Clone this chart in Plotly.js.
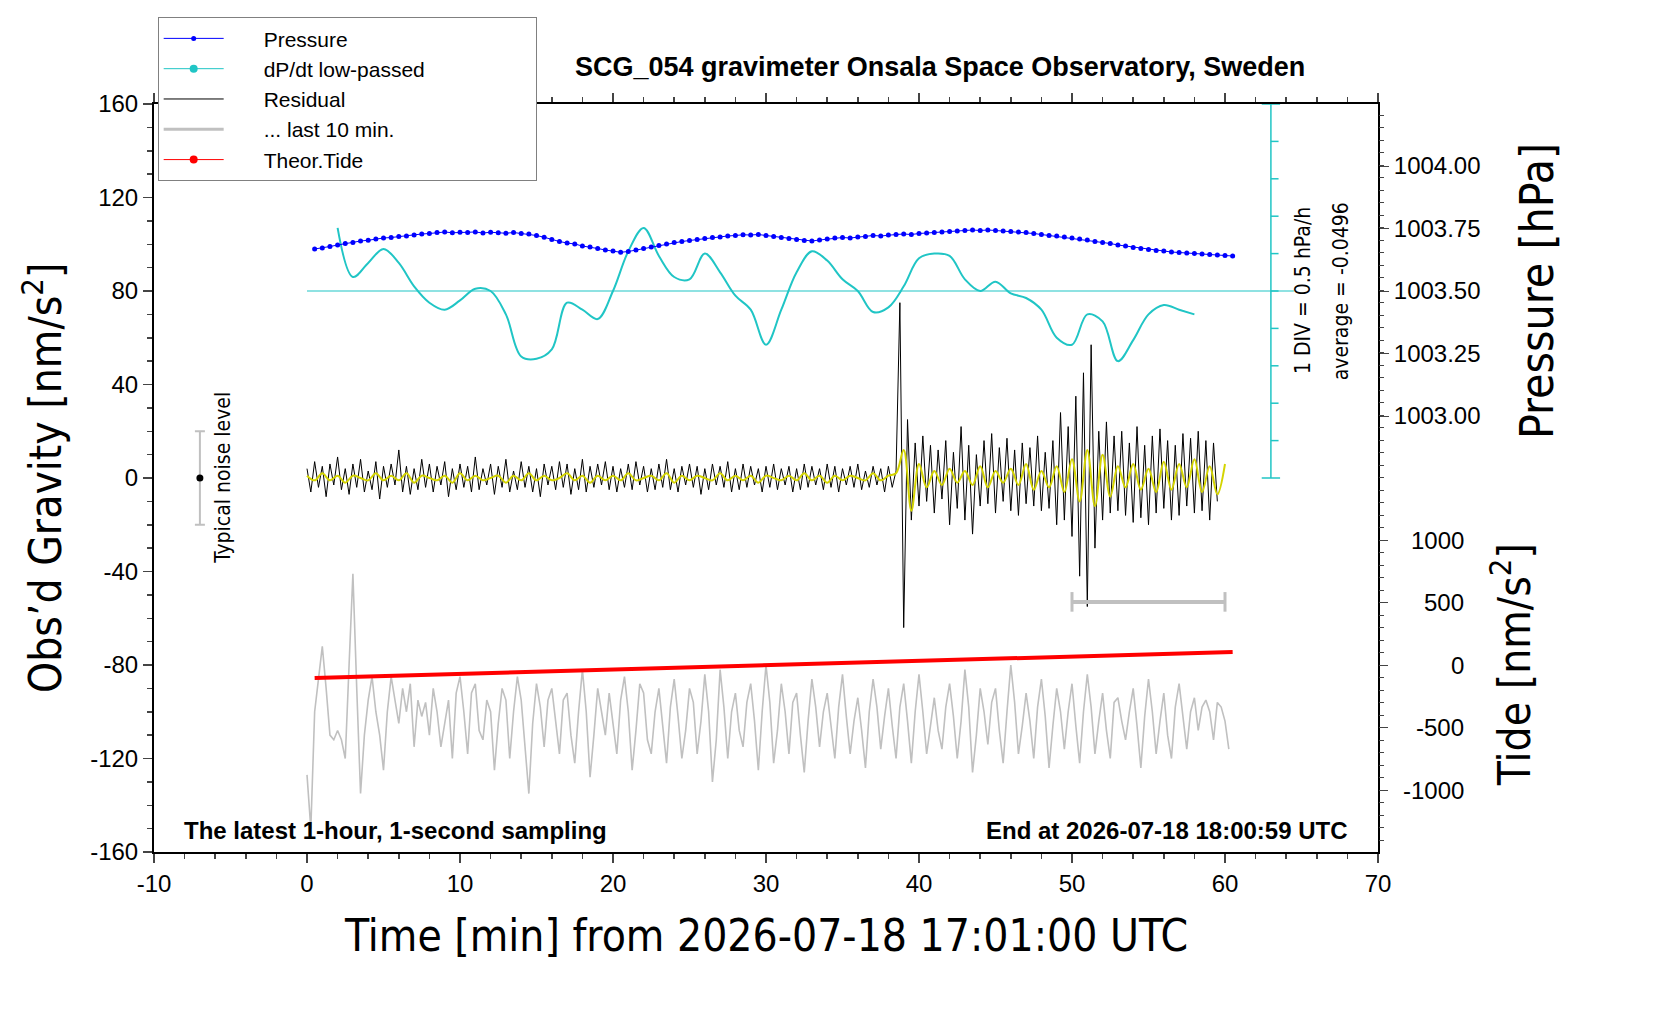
<!DOCTYPE html>
<html><head><meta charset="utf-8">
<script src="https://cdn.plot.ly/plotly-3.0.1.min.js"></script>
<style>body{margin:0;background:#fff}</style></head>
<body><div id="chart" style="width:1660px;height:1020px"></div>
<script>
// ---- data ----
const residualStep = 0.25; // minutes between residual samples
const residual = [4,-6,7,-4,5,-8,6,-3,9,-5,4,-7,6,-4,8,-6,3,-5,7,-9,5,-4,6,-3,12,-6,5,-7,4,-5,8,-4,6,-6,5,-3,7,-8,4,-5,
6,-4,5,-6,9,-5,4,-3,6,-7,5,-4,8,-6,3,-5,7,-4,5,-6,4,-8,6,-3,5,-5,7,-4,6,-7,4,-5,8,-6,5,-4,6,-3,7,-5,
5,-6,4,-4,6,-5,7,-3,5,-6,4,-5,6,-4,8,-5,4,-6,5,-3,6,-4,5,-7,4,-5,6,-3,5,-4,7,-6,4,-5,6,-4,5,-3,4,-6,
5,-4,6,-5,4,-3,5,-6,4,-5,6,-4,5,-3,4,-5,6,-4,5,-6,4,-3,5,-4,6,-5,3,-4,5,-3,4,-6,5,-4,
3,75,-64,25,-18,15,-12,18,-10,14,-15,12,-9,16,-20,11,-13,22,-18,14,-24,10,-12,16,-11,19,-15,13,-10,17,
-14,12,-16,15,-11,13,-12,18,-14,11,-13,16,-20,28,-18,22,-25,35,-42,45,-55,57,-30,20,-18,24,-15,18,-14,20,
-16,15,-19,22,-17,14,-20,18,-15,21,-13,16,-18,14,-16,19,-12,17,-15,20,-14,16,-18,15,-10];
const yellowStep = 0.5;
const yellow = [1,-1,2,-1,1,-2,1,0,-1,2,-1,1,-1,2,-2,1,0,-1,1,-2,2,-1,1,-1,0,1,-2,1,-1,2,-1,1,-1,0,2,-1,1,-2,1,-1,
1,-1,2,-1,0,1,-1,2,-2,1,-1,1,0,-1,2,-1,1,-1,1,-2,1,0,-1,1,-1,2,-1,1,-2,1,-1,1,0,-1,2,-1,1,
2,12,-14,6,-4,3,-3,4,-2,3,-3,5,-4,3,-2,4,-3,6,-5,3,-4,5,-6,8,-10,12,-12,10,-8,5,-4,6,-5,4,-6,7,-5,6,-4,8,-6,5,-7,6];
const grayStep = 0.25;
const gray = [-127,-150,-100,-85,-72,-90,-110,-112,-108,-112,-120,-80,-41,-90,-135,-110,-95,-85,-100,-110,-125,-100,-85,-95,
-105,-90,-100,-88,-115,-95,-102,-96,-110,-90,-100,-115,-105,-95,-120,-92,-85,-100,-118,-92,-88,-108,-112,-95,
-100,-125,-105,-90,-95,-120,-100,-85,-95,-115,-135,-105,-88,-98,-115,-95,-90,-104,-118,-95,-92,-110,-122,-100,
-82,-100,-128,-110,-90,-100,-110,-92,-105,-118,-95,-85,-100,-125,-108,-88,-92,-112,-118,-100,-90,-105,-122,-98,
-86,-102,-120,-108,-90,-96,-118,-104,-84,-100,-130,-112,-82,-98,-120,-100,-92,-108,-115,-96,-88,-104,-125,-100,
-80,-96,-122,-108,-88,-100,-118,-96,-92,-110,-126,-104,-86,-98,-115,-100,-92,-106,-120,-98,-84,-102,-118,-104,
-94,-108,-124,-100,-86,-98,-116,-102,-90,-106,-120,-98,-88,-104,-122,-100,-84,-100,-118,-106,-94,-108,-116,-98,
-88,-102,-120,-104,-82,-98,-126,-110,-90,-100,-114,-96,-90,-108,-122,-100,-80,-96,-118,-106,-92,-104,-120,-98,
-86,-102,-124,-106,-90,-100,-116,-100,-88,-106,-122,-100,-84,-98,-118,-104,-92,-108,-120,-96,-94,-104,-112,-100,
-90,-106,-124,-102,-86,-100,-118,-104,-92,-110,-120,-98,-88,-102,-116,-100,-94,-108,-98,-95,-100,-112,-96,-98,-104,-116];
const pressureStart = 0.5, pressureStep = 0.5;
const pressure = [1003.668,1003.672,1003.678,1003.684,1003.690,1003.694,1003.700,1003.703,1003.708,1003.712,1003.714,1003.718,1003.720,1003.724,1003.728,1003.730,1003.734,1003.736,1003.733,1003.735,
1003.734,1003.736,1003.732,1003.735,1003.733,1003.731,1003.734,1003.730,1003.728,1003.722,1003.715,1003.706,1003.698,1003.692,1003.688,1003.680,1003.676,1003.670,1003.664,1003.660,
1003.655,1003.658,1003.664,1003.670,1003.676,1003.682,1003.688,1003.694,1003.698,1003.702,1003.706,1003.710,1003.714,1003.716,1003.720,1003.722,1003.725,1003.724,1003.726,1003.722,
1003.718,1003.714,1003.710,1003.706,1003.702,1003.700,1003.704,1003.708,1003.712,1003.714,1003.712,1003.716,1003.718,1003.722,1003.720,1003.724,1003.726,1003.728,1003.726,1003.730,
1003.732,1003.734,1003.736,1003.738,1003.740,1003.742,1003.744,1003.742,1003.744,1003.742,1003.740,1003.738,1003.736,1003.734,1003.730,1003.726,1003.722,1003.720,1003.716,1003.712,
1003.708,1003.704,1003.698,1003.694,1003.690,1003.684,1003.680,1003.674,1003.670,1003.666,1003.662,1003.660,1003.656,1003.654,1003.652,1003.650,1003.648,1003.646,1003.644,1003.642,1003.640];
const dpdtStart = 2;
const dpdt = [107,86,92,98,92,82,75,72,76,81,80,70,52,51,55,75,72,68,80,97,107,95,86,85,96,88,78,72,57,72,88,97,93,85,80,71,73,82,94,96,95,85,80,84,79,77,72,60,57,70,67,50,59,70,74,72,70];
const dpdtAverage = 80;
const tideTimes = [0.5,5.5,10.5,15.5,20.5,25.5,30.5,35.5,40.5,45.5,50.5,55.5,60.5];
const tide = [-104,-87,-69,-52,-35,-17,0,17,35,52,70,87,104];
const xTicks = [-10,0,10,20,30,40,50,60,70];
const gravTicks = [-160,-120,-80,-40,0,40,80,120,160];
const pressureTicks = [1003.00,1003.25,1003.50,1003.75,1004.00];
const tideTicks = [-1500,-1000,-500,0,500,1000];
const noiseLevel = 20;
const last10Bar = [50,60];
const last10BarY = -53;

// ---- build ----
const F = 'Liberation Sans, Arial, sans-serif';
const FN = 'Liberation Sans Narrow, Arial Narrow, DejaVu Sans Condensed, sans-serif';
const seq = (n, s, st) => Array.from({length:n}, (_, i) => s + i*st);
const teal = '#20c5c5';
const pad = '\u00a0\u00a0\u00a0\u00a0\u00a0\u00a0';
const tail = '\u00a0'.repeat(18);

const scX = 63, scTop = 160, scDiv = 16;
const sx = [scX, scX, null, scX-0.6, scX+0.6, null, scX-0.6, scX+0.6];
const sy = [0, scTop, null, 0, 0, null, scTop, scTop];
for (let v = scDiv; v < scTop; v += scDiv) { sx.push(null, scX, scX+0.5); sy.push(null, v, v); }

const traces = [
 {x: seq(gray.length, 0, grayStep), y: gray, mode:'lines', line:{color:'#c0c0c0', width:1.6}, showlegend:false},
 {x: seq(pressure.length, pressureStart, pressureStep), y: pressure, yaxis:'y2', mode:'lines+markers', name:pad+'Pressure',
  line:{color:'#0000ff', width:1}, marker:{color:'#0000ff', size:5}},
 {x: seq(dpdt.length, dpdtStart, 1), y: dpdt, mode:'lines', showlegend:false, line:{color:teal, width:2, shape:'spline', smoothing:1}},
 {x: [null], y:[null], mode:'lines+markers', name:pad+'dP/dt low-passed'+tail, line:{color:teal, width:1}, marker:{color:teal, size:8}},
 {x: seq(residual.length, 0, residualStep), y: residual, mode:'lines', name:pad+'Residual', line:{color:'#000', width:1}},
 {x: [null], y:[null], mode:'lines', name:pad+'... last 10 min.', line:{color:'#c0c0c0', width:3}},
 {x: tideTimes, y: tide, yaxis:'y3', mode:'lines', showlegend:false, line:{color:'#ff0000', width:4}},
 {x: [null], y:[null], mode:'lines+markers', name:pad+'Theor.Tide', line:{color:'#ff0000', width:1}, marker:{color:'#ff0000', size:8}},
 {x: seq(yellow.length, 0, yellowStep), y: yellow, mode:'lines', line:{color:'#d4d400', width:2, shape:'spline'}, showlegend:false},
 {x: [0, scX+1.5], y: [dpdtAverage, dpdtAverage], mode:'lines', line:{color:teal, width:1.2}, showlegend:false},
 {x: sx, y: sy, mode:'lines', line:{color:teal, width:1.5}, showlegend:false},
 {x: last10Bar, y: [last10BarY, last10BarY], mode:'lines+markers', line:{color:'#c0c0c0', width:4},
  marker:{symbol:'line-ns-open', size:14, color:'#c0c0c0', line:{width:3, color:'#c0c0c0'}}, showlegend:false},
 {x: [-7], y: [0], mode:'markers', marker:{color:'#000', size:7},
  error_y:{type:'data', array:[noiseLevel], color:'#c0c0c0', thickness:2, width:5}, showlegend:false}
];

const annotations = [
 {text:'<b>SCG_054 gravimeter Onsala Space Observatory, Sweden</b>', xref:'paper', yref:'paper', x:0.642, y:1.049, yanchor:'middle', showarrow:false, font:{family:F, size:27, color:'#000'}},
 {text:'<b>The latest 1-hour, 1-second sampling</b>', xref:'paper', yref:'paper', x:0.023, y:0.029, xanchor:'left', yanchor:'middle', showarrow:false, font:{family:F, size:24}},
 {text:'<b>End at 2026-07-18 18:00:59 UTC</b>', xref:'paper', yref:'paper', x:0.977, y:0.029, xanchor:'right', yanchor:'middle', showarrow:false, font:{family:F, size:24}},
 {text:'Obs’d Gravity [nm/s<sup>2</sup>]', xref:'paper', yref:'y', x:-0.0915, y:0, xanchor:'center', yanchor:'middle', textangle:-90, showarrow:false, font:{family:FN, size:44}},
 {text:'Time [min] from 2026-07-18 17:01:00 UTC', xref:'paper', yref:'paper', x:0.5, y:-0.111, xanchor:'center', yanchor:'middle', showarrow:false, font:{family:FN, size:44}},
 {text:'Pressure [hPa]', xref:'paper', yref:'y2', x:1.13, y:1003.5, xanchor:'center', yanchor:'middle', textangle:-90, showarrow:false, font:{family:FN, size:46}},
 {text:'Tide [nm/s<sup>2</sup>]', xref:'paper', yref:'y3', x:1.108, y:0, xanchor:'center', yanchor:'middle', textangle:-90, showarrow:false, font:{family:FN, size:44}},
 {text:'Typical noise level', x:-5.5, y:0, xanchor:'center', yanchor:'middle', textangle:-90, showarrow:false, font:{family:FN, size:21}},
 {text:'1 DIV = 0.5 hPa/h', x:65.1, y:dpdtAverage, xanchor:'center', yanchor:'middle', textangle:-90, showarrow:false, font:{family:FN, size:21}},
 {text:'average = -0.0496', x:67.6, y:dpdtAverage, xanchor:'center', yanchor:'middle', textangle:-90, showarrow:false, font:{family:FN, size:21}}
];
tideTicks.forEach(t => annotations.push({text:String(t), xref:'paper', yref:'y3', x:1.072, y:t, xanchor:'right', yanchor:'middle', showarrow:false, font:{family:F, size:24}}));

const layout = {
 width:1660, height:1020, margin:{l:154, r:282, t:104, b:168},
 paper_bgcolor:'#fff', plot_bgcolor:'#fff', font:{family:F, color:'#000'},
 showlegend:true,
 legend:{x:0.003, y:1.116, xanchor:'left', yanchor:'top', bgcolor:'#fff', bordercolor:'#808080', borderwidth:1,
  font:{family:F, size:21}, itemwidth:60, tracegroupgap:0},
 xaxis:{range:[-10,70], tickvals:xTicks, ticktext:xTicks.map(String), ticks:'outside', ticklen:9, tickwidth:1.5, showline:true, linewidth:2, linecolor:'#000',
  mirror:'ticks', zeroline:false, showgrid:false, tickfont:{size:24},
  minor:{dtick:2, ticks:'outside', ticklen:5, showgrid:false}},
 yaxis:{range:[-160,160], tickvals:gravTicks, ticktext:gravTicks.map(String), ticks:'outside', ticklen:9, tickwidth:1.5, showline:true, linewidth:2, linecolor:'#000',
  zeroline:false, showgrid:false, tickfont:{size:24}, minor:{dtick:10, ticks:'outside', ticklen:5, showgrid:false}},
 yaxis2:{overlaying:'y', side:'right', range:[1001.256,1004.248], tickvals:pressureTicks, ticktext:pressureTicks.map(v=>v.toFixed(2)),
  ticks:'outside', ticklen:9, showline:true, linewidth:2, linecolor:'#000', showgrid:false, zeroline:false, tickfont:{size:24}},
 yaxis3:{overlaying:'y', side:'right', range:[-1496,4488], tickvals:tideTicks, showticklabels:false, ticks:'outside', ticklen:9,
  showgrid:false, zeroline:false, minor:{dtick:100, ticks:'outside', ticklen:5, showgrid:false}},
 annotations: annotations
};
Plotly.newPlot('chart', traces, layout, {displayModeBar:false, staticPlot:true});
</script></body></html>
